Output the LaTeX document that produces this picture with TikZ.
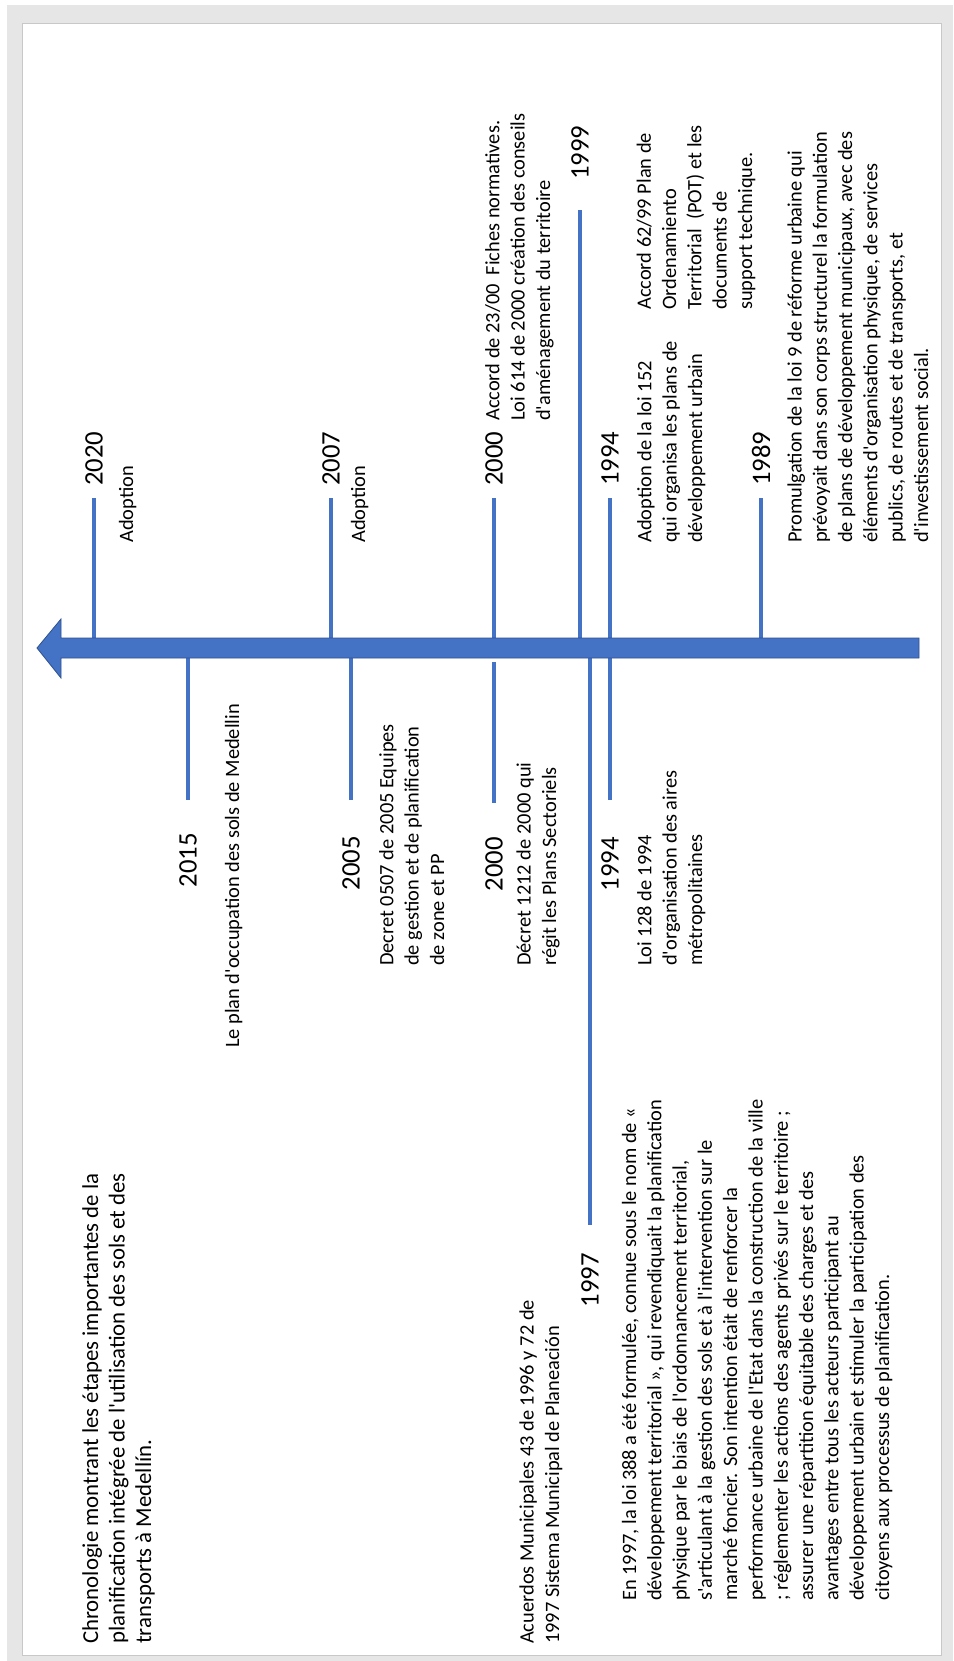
\documentclass[tikz,border=0pt]{standalone}
\usepackage{fontspec}
\newfontfamily\timelinefont{Carlito}
\usepackage{tikz}
\usetikzlibrary{positioning}
\definecolor{lineblue}{HTML}{4472C4}
\definecolor{edgeblue}{HTML}{2F528F}
\definecolor{pagegrey}{HTML}{E6E6E6}
\definecolor{rimgrey}{HTML}{C8C8C8}

\begin{document}
\begin{tikzpicture}[
    x=1pt, y=-1pt,
    node distance=12pt,
    year/.style={rotate=90, inner sep=0pt, font=\timelinefont\fontsize{26.7}{32}\selectfont},
    % ancre = ligne de base de la derniere ligne
    note/.style={rotate=90, inner sep=0pt, anchor=base west, align=left, font=\timelinefont\fontsize{20.4}{25.3}\selectfont},
    yearline/.style={draw=lineblue, line width=4.8pt}
  ]
  \useasboundingbox (0,0) rectangle (953,1661);
  \fill[pagegrey] (7,5) rectangle (953,1661);
  \draw[rimgrey, fill=white, line width=1pt] (22,24) rectangle (941,1655);

  % traits des annees
  \coordinate (b2020) at (94,648);   \coordinate (t2020) at (94,498);
  \coordinate (b2007) at (331,648);  \coordinate (t2007) at (331,498);
  \coordinate (b2000a) at (494,648); \coordinate (t2000a) at (494,498);
  \coordinate (b1999) at (580,648);  \coordinate (t1999) at (580,210);
  \coordinate (b1994a) at (610,648); \coordinate (t1994a) at (610,498);
  \coordinate (b1989) at (761,648);  \coordinate (t1989) at (761,498);
  \coordinate (b2015) at (188,648);  \coordinate (t2015) at (188,800);
  \coordinate (b2005) at (351,648);  \coordinate (t2005) at (351,800);
  \coordinate (b2000b) at (494,662); \coordinate (t2000b) at (494,803);
  \coordinate (b1997) at (590,648);  \coordinate (t1997) at (590,1225);
  \coordinate (b1994b) at (610,648); \coordinate (t1994b) at (610,800);

  \draw[yearline] (b2020) -- (t2020);
  \draw[yearline] (b2007) -- (t2007);
  \draw[yearline] (b2000a) -- (t2000a);
  \draw[yearline] (b1999) -- (t1999);
  \draw[yearline] (b1994a) -- (t1994a);
  \draw[yearline] (b1989) -- (t1989);
  \draw[yearline] (b2015) -- (t2015);
  \draw[yearline] (b2005) -- (t2005);
  \draw[yearline] (b2000b) -- (t2000b);
  \draw[yearline] (b1997) -- (t1997);
  \draw[yearline] (b1994b) -- (t1994b);

  % axe du temps
  \fill[lineblue, draw=edgeblue, line width=0.8pt] (37,648) -- (61,619) -- (61,638) -- (919,638) -- (919,658) -- (61,658) -- (61,678) -- cycle;

  % annees
  \node (y2020) [year, above=of t2020, anchor=west] {2020};
  \node (y2007) [year, above=of t2007, anchor=west] {2007};
  \node (y2000a) [year, above=of t2000a, anchor=west] {2000};
  \node (y1999) [year, above=30pt of t1999, anchor=west] {1999};
  \node (y1994a) [year, above=of t1994a, anchor=west] {1994};
  \node (y1989) [year, above=of t1989, anchor=west] {1989};
  \node (y2015) [year, below=33pt of t2015, anchor=east] {2015};
  \node (y2005) [year, below=36pt of t2005, anchor=east] {2005};
  \node (y2000b) [year, below=34pt of t2000b, anchor=east] {2000};
  \node (y1997) [year, below=28pt of t1997, anchor=east] {1997};
  \node (y1994b) [year, below=37pt of t1994b, anchor=east] {1994};

  % textes
  \node (title) [note, font=\timelinefont\fontsize{22.8}{26.5}\selectfont] at (151,1644)
    {Chronologie montrant les étapes importantes de la\\planification intégrée de l'utilisation des sols et des\\transports à Medellín.};
  \node (n2020) [note] at (133,543) {Adoption};
  \node (n2007) [note] at (365,543) {Adoption};
  \node (n2000a) [note] at (550,421)
    {Accord de 23/00\ \ Fiches normatives.\\Loi 614 de 2000 création des conseils\\d'aménagement du territoire};
  \node (n1999) [note] at (752,310)
    {Accord 62/99 Plan de\\Ordenamiento\\Territorial\ \ (POT) et les\\documents de\\support technique.};
  \node (n1994a) [note] at (702,543)
    {Adoption de la loi 152\\qui organisa les plans de\\développement urbain};
  \node (n1989) [note] at (928,543)
    {Promulgation de la loi 9 de réforme urbaine qui\\prévoyait dans son corps structurel la formulation\\de plans de développement municipaux, avec des\\éléments d'organisation physique, de services\\publics, de routes et de transports, et\\d'investissement social.};
  \node (n2015) [note] at (239,1048) {Le plan d'occupation des sols de Medellin};
  \node (n2005) [note] at (444,966)
    {Decret 0507 de 2005 Equipes\\de gestion et de planification\\de zone et PP};
  \node (n2000b) [note] at (556,966)
    {Décret 1212 de 2000 qui\\régit les Plans Sectoriels};
  \node (n1994b) [note] at (702,966)
    {Loi 128 de 1994\\d'organisation des aires\\métropolitaines};
  \node (n1997a) [note] at (559,1644)
    {Acuerdos Municipales 43 de 1996 y 72 de\\1997 Sistema Municipal de Planeación};
  \node (n1997b) [note] at (889,1601)
    {En 1997, la loi 388 a été formulée, connue sous le nom de «\\développement territorial », qui revendiquait la planification\\physique par le biais de l'ordonnancement territorial,\\s'articulant à la gestion des sols et à l'intervention sur le\\marché foncier. Son intention était de renforcer la\\performance urbaine de l'Etat dans la construction de la ville\\; réglementer les actions des agents privés sur le territoire ;\\assurer une répartition équitable des charges et des\\avantages entre tous les acteurs participant au\\développement urbain et stimuler la participation des\\citoyens aux processus de planification.};
\end{tikzpicture}
\end{document}
